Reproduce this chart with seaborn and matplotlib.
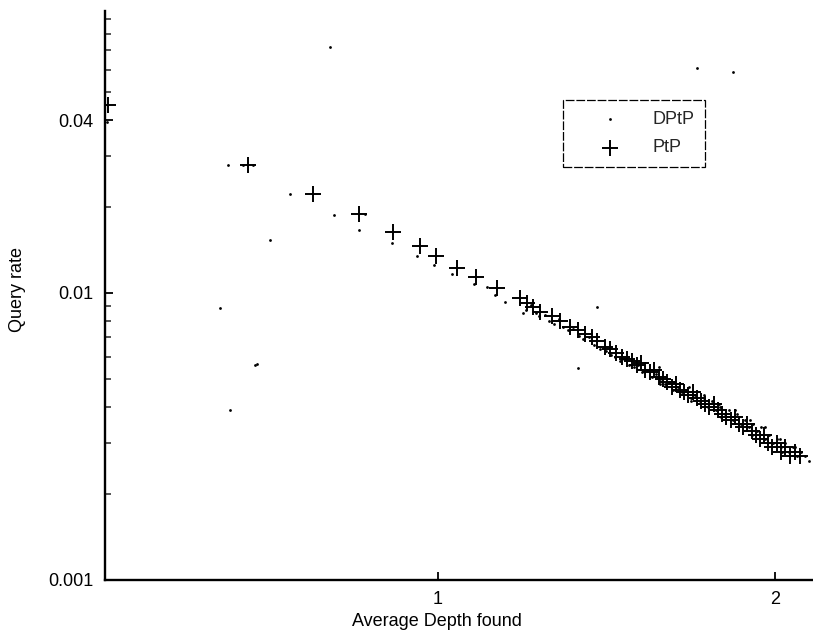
import numpy as np
import pandas as pd
import matplotlib
matplotlib.use("Agg")
import matplotlib.pyplot as plt
from matplotlib.ticker import FixedLocator, NullFormatter
import seaborn as sns

# PtP: average depth found vs query rate
ptp_depth = [0.020, 0.436, 0.629, 0.766, 0.866, 0.947, 0.994, 1.056, 1.113, 1.175,
             1.243, 1.264, 1.282, 1.303, 1.338, 1.362, 1.392, 1.416, 1.436, 1.457,
             1.472, 1.495, 1.510, 1.528, 1.545, 1.560, 1.575, 1.590, 1.602, 1.615,
             1.630, 1.642, 1.655, 1.668, 1.680, 1.693, 1.705, 1.718, 1.730, 1.742,
             1.755, 1.768, 1.780, 1.792, 1.805, 1.818, 1.830, 1.842, 1.855, 1.868,
             1.880, 1.892, 1.905, 1.918, 1.930, 1.942, 1.955, 1.968, 1.980, 1.992,
             2.005, 2.018, 2.030, 2.045, 2.060, 2.075]
ptp_rate = [0.0452, 0.0280, 0.0221, 0.0188, 0.0163, 0.0146, 0.0134, 0.0122, 0.0114, 0.0104,
            0.0096, 0.0092, 0.0089, 0.0086, 0.0083, 0.0080, 0.0076, 0.0074, 0.0072, 0.0070,
            0.0068, 0.0065, 0.0064, 0.0062, 0.0060, 0.0059, 0.0058, 0.0056, 0.0057, 0.0054,
            0.0053, 0.0054, 0.0051, 0.0050, 0.0049, 0.0047, 0.0048, 0.0046, 0.0045, 0.0044,
            0.0045, 0.0043, 0.0042, 0.0041, 0.0040, 0.0041, 0.0039, 0.0038, 0.0037, 0.0036,
            0.0037, 0.0035, 0.0034, 0.0035, 0.0033, 0.0032, 0.0031, 0.0032, 0.0030, 0.0029,
            0.0030, 0.0028, 0.0029, 0.0027, 0.0028, 0.0027]

# DPtP: average depth found vs query rate
dptp_depth = [0.018, 0.377, 0.421, 0.451, 0.501, 0.353, 0.457, 0.462, 0.383, 0.680,
              0.561, 0.691, 0.784, 0.766, 0.863, 0.938, 0.988, 1.042, 1.107, 1.145,
              1.169, 1.199, 1.252, 1.769, 1.875,
              1.262, 1.275, 1.290, 1.300, 1.318, 1.330, 1.345, 1.358, 1.370, 1.385,
              1.400, 1.415, 1.418, 1.430, 1.448, 1.462, 1.472, 1.480, 1.498, 1.512,
              1.525, 1.540, 1.552, 1.566, 1.580, 1.594, 1.606, 1.620, 1.634, 1.646,
              1.660, 1.672, 1.686, 1.698, 1.712, 1.724, 1.738, 1.750, 1.762, 1.776,
              1.788, 1.800, 1.812, 1.826, 1.838, 1.850, 1.862, 1.874, 1.886, 1.898,
              1.910, 1.922, 1.934, 1.946, 1.958, 1.970, 1.982, 1.994, 2.006, 2.018,
              2.030, 2.042, 2.054, 2.066, 2.078, 2.090, 2.100,
              1.655, 1.700, 1.745, 1.790, 1.835, 1.880, 1.925, 1.970, 2.015, 2.060,
              1.660, 1.750, 1.840, 1.930, 2.020]
dptp_rate = [0.0394, 0.0279, 0.0279, 0.0279, 0.0153, 0.00887, 0.00561, 0.00566, 0.00391, 0.0720,
             0.0221, 0.0187, 0.0189, 0.0166, 0.0149, 0.0134, 0.0125, 0.0116, 0.0107, 0.0105,
             0.0098, 0.0093, 0.0085, 0.0608, 0.0589,
             0.0087, 0.0091, 0.0085, 0.0083, 0.0084, 0.0080, 0.0078, 0.0081, 0.0076, 0.0074,
             0.0075, 0.00548, 0.0071, 0.0069, 0.0070, 0.0066, 0.00894, 0.0064, 0.0063, 0.0061,
             0.0060, 0.0058, 0.0059, 0.0056, 0.0055, 0.0056, 0.0053, 0.0054, 0.0051, 0.0052,
             0.0050, 0.0048, 0.0049, 0.0046, 0.0047, 0.0045, 0.0046, 0.0043, 0.0044, 0.0042,
             0.0043, 0.0040, 0.0042, 0.0039, 0.0040, 0.0038, 0.0039, 0.0036, 0.0038, 0.0035,
             0.0036, 0.0034, 0.0035, 0.0033, 0.0034, 0.0031, 0.0032, 0.0030, 0.0031, 0.0029,
             0.0030, 0.0028, 0.0029, 0.0027, 0.0028, 0.0027, 0.0026,
             0.0055, 0.0049, 0.0047, 0.0044, 0.0041, 0.0039, 0.0036, 0.0034, 0.0031, 0.0029,
             0.0048, 0.0042, 0.0037, 0.0032, 0.0028]

x_ticks = [1, 2]
x_tick_labels = ["1", "2"]
y_ticks = [0.001, 0.01, 0.04]
y_tick_labels = ["0.001", "0.01", "0.04"]

sns.set_theme(style="ticks")
plt.rcParams["font.family"] = ["Liberation Sans", "DejaVu Sans"]

fig = plt.figure(figsize=(8.13, 6.38), dpi=100)
ax = fig.add_axes([0.129, 0.091, 0.870, 0.892])

dptp = pd.DataFrame({"depth": dptp_depth, "rate": dptp_rate})
ptp = pd.DataFrame({"depth": ptp_depth, "rate": ptp_rate})

sns.scatterplot(data=dptp, x="depth", y="rate", ax=ax, marker=".", s=16,
                color="black", linewidth=0, label="DPtP")
sns.scatterplot(data=ptp, x="depth", y="rate", ax=ax, marker="+", s=120,
                color="black", linewidth=1.4, label="PtP")

ax.set_yscale("log")
ax.set_xlim(0.012, 2.11)
ax.set_ylim(0.001, 0.0961)

ax.set_xticks(x_ticks)
ax.set_xticklabels(x_tick_labels)
ax.set_yticks(y_ticks)
ax.set_yticklabels(y_tick_labels)
minor = [m * 10.0 ** e for e in (-3, -2) for m in range(2, 10)]
minor = [v for v in minor if v not in (0.04,)]
ax.yaxis.set_minor_locator(FixedLocator(minor))
ax.yaxis.set_minor_formatter(NullFormatter())
ax.xaxis.set_minor_locator(FixedLocator([]))

ax.tick_params(axis="both", which="major", direction="in", length=6, width=1.3,
               labelsize=13, colors="black", pad=8)
ax.tick_params(axis="y", which="minor", direction="in", length=4, width=1.1)

for side in ("top", "right"):
    ax.spines[side].set_visible(False)
for side in ("left", "bottom"):
    ax.spines[side].set_linewidth(1.7)
    ax.spines[side].set_color("black")

ax.set_xlabel("Average Depth found", fontsize=13, color="black")
ax.set_ylabel("Query rate", fontsize=13, color="black")
ax.xaxis.set_label_coords(0.47, -0.058)
ax.yaxis.set_label_coords(-0.112, 0.51)

leg = ax.legend(loc="upper left", bbox_to_anchor=(0.648, 0.8436), fontsize=13,
                frameon=True, fancybox=False, borderpad=0.6, handletextpad=0.35,
                handlelength=4.0, labelspacing=0.65, borderaxespad=0)
frame = leg.get_frame()
frame.set_edgecolor("black")
frame.set_linewidth(0.9)
frame.set_linestyle((0, (7, 1.5)))
frame.set_facecolor("white")
frame.set_alpha(1)

fig.savefig("out.png", dpi=100)
